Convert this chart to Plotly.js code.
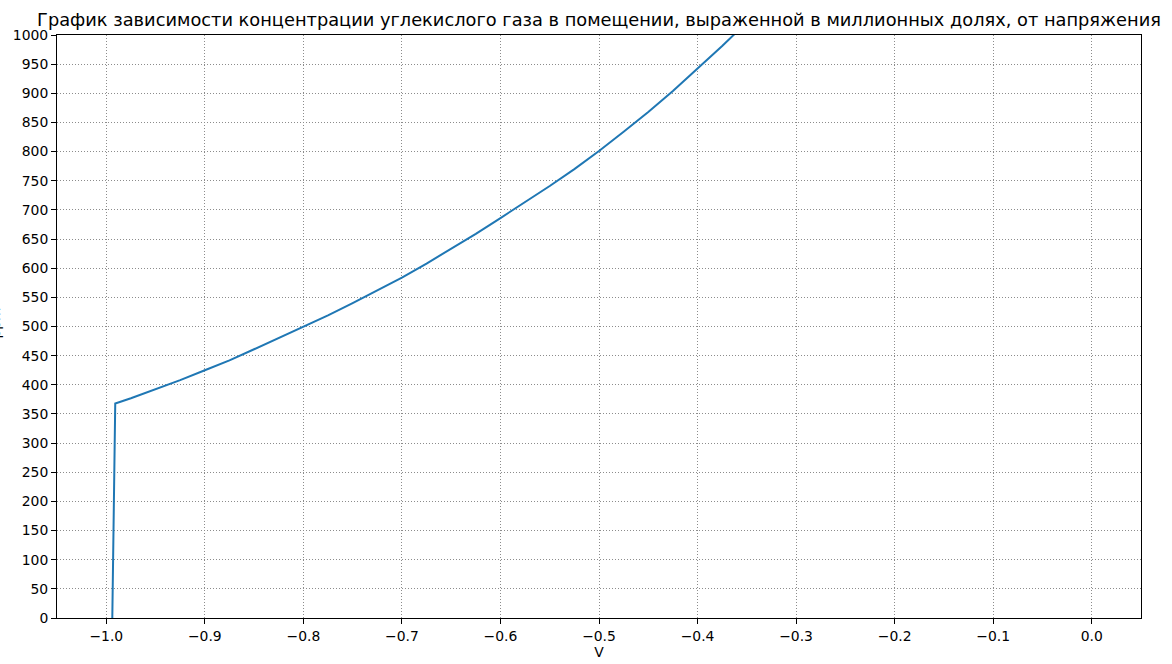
<!DOCTYPE html>
<html>
<head>
<meta charset="utf-8">
<script src="https://cdn.plot.ly/plotly-3.0.1.min.js"></script>
<style>html,body{margin:0;padding:0;background:#fff;}#chart{width:1172px;height:664px;}</style>
</head>
<body>
<div id="chart"></div>
<script>
// Voltage (V) values
const voltage = [-0.9955, -0.9909, -0.975, -0.95, -0.925, -0.9, -0.875, -0.85, -0.825, -0.8, -0.775, -0.75, -0.725, -0.7, -0.675, -0.65, -0.625, -0.6, -0.575, -0.55, -0.525, -0.5, -0.475, -0.45, -0.425, -0.4, -0.375, -0.35];
// CO2 concentration (ppm)
const ppm = [-200, 368, 377, 392, 408, 425, 442, 461, 480, 499, 519, 540, 562, 584, 608, 633, 659, 686, 713, 741, 770, 801, 834, 868, 904, 942, 981, 1022];

const titleText = "График зависимости концентрации углекислого газа в помещении, выраженной в миллионных долях, от напряжения";
const xTitle = "V";
const yTitle = "ppm";

const tickFont = {family: "DejaVu Sans", size: 13.9, color: "#000"};

const trace = {
  x: voltage, y: ppm, type: "scatter", mode: "lines",
  line: {color: "#1f77b4", width: 2},
  hoverinfo: "skip"
};

const layout = {
  width: 1172, height: 664,
  margin: {l: 57, r: 31, t: 35, b: 46},
  paper_bgcolor: "#fff", plot_bgcolor: "#fff",
  showlegend: false,
  title: {
    text: titleText,
    font: {family: "DejaVu Sans", size: 17.8, color: "#000"},
    xref: "paper", x: 0.5, xanchor: "center",
    yref: "container", y: 0.970, yanchor: "middle"
  },
  xaxis: {
    range: [-1.05, 0.05], dtick: 0.1, tick0: 0, tickformat: ".1f",
    showline: true, linecolor: "#000", linewidth: 1, mirror: true,
    ticks: "outside", ticklen: 5, tickwidth: 1, tickcolor: "#000",
    showgrid: true, gridcolor: "#8c8c8c", griddash: "1px,2px", gridwidth: 1,
    zeroline: false, tickfont: tickFont, automargin: false,
    title: {text: xTitle, font: {family: "DejaVu Sans", size: 13.9, color: "#000"}, standoff: 4}
  },
  yaxis: {
    range: [0, 1000], dtick: 50, tick0: 0,
    showline: true, linecolor: "#000", linewidth: 1, mirror: true,
    ticks: "outside", ticklen: 5, tickwidth: 1, tickcolor: "#000",
    showgrid: true, gridcolor: "#8c8c8c", griddash: "1px,2px", gridwidth: 1,
    zeroline: false, tickfont: tickFont, automargin: false
  },
  annotations: [{
    text: yTitle, xref: "paper", yref: "paper",
    x: -62/1084, y: 0.505, xanchor: "center", yanchor: "middle",
    textangle: -90, showarrow: false,
    font: {family: "DejaVu Sans", size: 13.9, color: "#000"}
  }]
};

Plotly.newPlot("chart", [trace], layout, {displayModeBar: false, staticPlot: true});
</script>
</body>
</html>
